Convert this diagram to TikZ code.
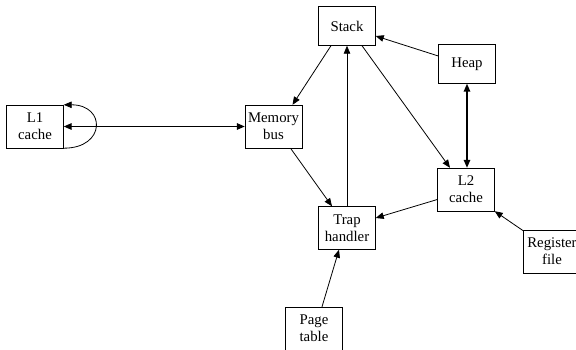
\documentclass[tikz,border=0pt]{standalone}
\usepackage{fontspec}
\setmainfont{Liberation Serif}
\usetikzlibrary{arrows.meta}

\begin{document}
\begin{tikzpicture}[x=1pt, y=-1pt, >={Triangle[length=8pt,width=6.5pt]},
        main/.style = {draw, rectangle, align=center, minimum width=57pt, minimum height=39pt, inner sep=2pt, font=\fontsize{14.8}{17}\selectfont},
        two/.style = {main, minimum height=43pt},
        edge/.style = {->, line width=0.8pt},
        both/.style = {<->, line width=1.4pt}]
        \useasboundingbox (0,0) rectangle (576,350);
        \node[two] (l1) at (35,126.5) {L1\\cache};
        \node[two] (mem) at (273.5,126.5) {Memory\\bus};
        \node[main] (stack) at (347,26) {Stack};
        \node[main] (heap) at (467,64) {Heap};
        \node[two] (l2) at (466,189.5) {L2\\cache};
        \node[two] (trap) at (347,228) {Trap\\handler};
        \node[two] (reg) at (552,251.5) {Register\\file};
        \node[two] (page) at (314,328.5) {Page\\table};
        \draw[both] (l1.east) -- (mem.west);
        \draw[edge] (l1.south east) to [out=0, in=0, looseness=2.5] (l1.north east);
        \draw[edge] ([xshift=-16pt]stack.south) -- ([xshift=19pt]mem.north);
        \draw[edge] (trap.north) -- (stack.south);
        \draw[edge] ([xshift=15pt]stack.south) -- ([xshift=-16pt]l2.north);
        \draw[edge] ([yshift=8pt]heap.west) -- ([yshift=-10pt]stack.east);
        \draw[both] (heap.south) -- (heap.south |- l2.north);
        \draw[edge] ([xshift=17pt]mem.south) -- ([xshift=-15pt]trap.north);
        \draw[edge] ([yshift=-10pt]l2.west) -- ([yshift=10pt]trap.east);
        \draw[edge] ([yshift=-1pt]reg.north west) -- (l2.south east);
        \draw[edge] ([xshift=8pt]page.north) -- ([xshift=-8pt]trap.south);
    \end{tikzpicture}
\end{document}
